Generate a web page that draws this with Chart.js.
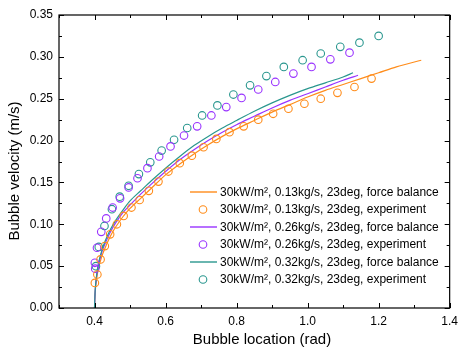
<!DOCTYPE html>
<html>
<head>
<meta charset="utf-8">
<script src="https://cdn.jsdelivr.net/npm/chart.js@4.4.1/dist/chart.umd.min.js"></script>
<style>
  html, body { margin: 0; padding: 0; background: #fff; }
  #wrap { width: 464px; height: 351px; }
</style>
</head>
<body>
<div id="wrap"><canvas id="myChart" width="464" height="351"></canvas></div>
<script>
// tick values
const xTicks = [0.4, 0.6, 0.8, 1.0, 1.2, 1.4];
const xMinor = [0.3, 0.5, 0.7, 0.9, 1.1, 1.3];
const yTicks = [0, 0.05, 0.10, 0.15, 0.20, 0.25, 0.30, 0.35];
const yMinor = [0.025, 0.075, 0.125, 0.175, 0.225, 0.275, 0.325];

const xTitle = 'Bubble location (rad)';
const yTitle = 'Bubble velocity (m/s)';

const labels = [
  '30kW/m², 0.13kg/s, 23deg, force balance',
  '30kW/m², 0.13kg/s, 23deg, experiment',
  '30kW/m², 0.26kg/s, 23deg, force balance',
  '30kW/m², 0.26kg/s, 23deg, experiment',
  '30kW/m², 0.32kg/s, 23deg, force balance',
  '30kW/m², 0.32kg/s, 23deg, experiment'
];

// force balance curves
const lineX013 = [0.400, 0.402, 0.405, 0.410, 0.420, 0.430, 0.445, 0.460, 0.480, 0.500, 0.530, 0.560, 0.600, 0.640, 0.680, 0.720, 0.760, 0.800, 0.850, 0.900, 0.950, 1.000, 1.050, 1.100, 1.150, 1.200, 1.250, 1.320];
const lineY013 = [0.000, 0.019, 0.032, 0.045, 0.061, 0.072, 0.086, 0.097, 0.109, 0.119, 0.131, 0.143, 0.159, 0.172, 0.184, 0.195, 0.205, 0.214, 0.224, 0.234, 0.243, 0.252, 0.260, 0.267, 0.274, 0.281, 0.288, 0.296];

const lineX026 = [0.400, 0.402, 0.405, 0.410, 0.420, 0.430, 0.445, 0.460, 0.480, 0.500, 0.530, 0.560, 0.600, 0.640, 0.680, 0.720, 0.760, 0.800, 0.850, 0.900, 0.950, 1.000, 1.050, 1.100, 1.142];
const lineY026 = [0.000, 0.021, 0.035, 0.049, 0.066, 0.077, 0.091, 0.102, 0.114, 0.123, 0.136, 0.148, 0.163, 0.177, 0.189, 0.200, 0.210, 0.219, 0.229, 0.239, 0.248, 0.256, 0.264, 0.272, 0.278];

const lineX032 = [0.400, 0.402, 0.405, 0.410, 0.420, 0.430, 0.445, 0.460, 0.480, 0.500, 0.530, 0.560, 0.600, 0.640, 0.680, 0.720, 0.760, 0.800, 0.850, 0.900, 0.950, 1.000, 1.050, 1.100, 1.128];
const lineY032 = [0.000, 0.022, 0.036, 0.051, 0.068, 0.080, 0.094, 0.105, 0.117, 0.128, 0.140, 0.152, 0.167, 0.181, 0.194, 0.205, 0.215, 0.224, 0.235, 0.245, 0.254, 0.262, 0.269, 0.276, 0.281];

// experiment points
const expX013 = [0.401, 0.408, 0.417, 0.429, 0.444, 0.463, 0.482, 0.504, 0.527, 0.553, 0.580, 0.608, 0.640, 0.674, 0.707, 0.743, 0.780, 0.820, 0.861, 0.903, 0.946, 0.991, 1.037, 1.084, 1.132, 1.180];
const expY013 = [0.030, 0.040, 0.058, 0.074, 0.088, 0.100, 0.110, 0.120, 0.129, 0.140, 0.151, 0.163, 0.173, 0.182, 0.192, 0.202, 0.210, 0.217, 0.225, 0.232, 0.238, 0.244, 0.250, 0.257, 0.264, 0.274];

const expX026 = [0.401, 0.402, 0.407, 0.419, 0.433, 0.451, 0.472, 0.496, 0.521, 0.549, 0.582, 0.614, 0.652, 0.689, 0.729, 0.771, 0.814, 0.861, 0.909, 0.960, 1.011, 1.064, 1.118];
const expY026 = [0.054, 0.047, 0.072, 0.091, 0.107, 0.120, 0.131, 0.144, 0.155, 0.167, 0.181, 0.193, 0.206, 0.217, 0.230, 0.240, 0.251, 0.261, 0.270, 0.280, 0.288, 0.297, 0.305];

const expX032 = [0.404, 0.412, 0.428, 0.449, 0.471, 0.496, 0.525, 0.557, 0.589, 0.624, 0.661, 0.703, 0.746, 0.791, 0.838, 0.884, 0.933, 0.986, 1.037, 1.092, 1.146, 1.200];
const expY032 = [0.050, 0.073, 0.098, 0.118, 0.133, 0.146, 0.160, 0.174, 0.188, 0.201, 0.215, 0.230, 0.242, 0.255, 0.266, 0.277, 0.288, 0.296, 0.304, 0.312, 0.317, 0.325];

const orange = '#ff8c1a';
const purple = '#9933ff';
const teal = '#2a978f';
const fontFamily = "Arial, 'Liberation Sans', sans-serif";

function pts(xs, ys) {
  return xs.map((x, i) => ({ x: x, y: ys[i] }));
}

function lineSet(label, xs, ys, color, order) {
  return {
    label: label,
    data: pts(xs, ys),
    showLine: true,
    borderColor: color,
    backgroundColor: color,
    borderWidth: 1.2,
    pointRadius: 0,
    tension: 0.3,
    fill: false,
    order: order
  };
}

function pointSet(label, xs, ys, color) {
  return {
    label: label,
    data: pts(xs, ys),
    showLine: false,
    borderColor: color,
    backgroundColor: 'rgba(0,0,0,0)',
    borderWidth: 1.1,
    pointRadius: 3.8,
    pointStyle: 'circle',
    order: 0
  };
}

// frame with inward ticks on all four sides, plus axis titles
const framePlugin = {
  id: 'frame',
  afterDraw(chart) {
    const c = chart.ctx;
    const a = chart.chartArea;
    const xs = chart.scales.x, ys = chart.scales.y;
    c.save();
    c.strokeStyle = '#000';
    c.lineWidth = 1.2;
    c.strokeRect(a.left, a.top, a.right - a.left, a.bottom - a.top);
    c.beginPath();
    xTicks.concat(xMinor).forEach(v => {
      const len = xTicks.includes(v) ? 5 : 3;
      const px = Math.round(xs.getPixelForValue(v)) + 0.5;
      c.moveTo(px, a.bottom); c.lineTo(px, a.bottom - len);
      c.moveTo(px, a.top); c.lineTo(px, a.top + len);
    });
    yTicks.concat(yMinor).forEach(v => {
      const len = yTicks.includes(v) ? 5 : 3;
      const py = Math.round(ys.getPixelForValue(v)) + 0.5;
      c.moveTo(a.left, py); c.lineTo(a.left + len, py);
      c.moveTo(a.right, py); c.lineTo(a.right - len, py);
    });
    c.lineWidth = 1;
    c.stroke();

    // axis titles
    c.fillStyle = '#000';
    c.font = '15px ' + fontFamily;
    c.textAlign = 'center';
    c.textBaseline = 'middle';
    c.fillText(xTitle, 262, 340);
    c.translate(15, 171);
    c.rotate(-Math.PI / 2);
    c.fillText(yTitle, 0, 0);
    c.restore();
  }
};

// legend drawn inside the plot, lower right
const legendPlugin = {
  id: 'innerLegend',
  afterDraw(chart) {
    const c = chart.ctx;
    const x0 = 190, y0 = 192, rowH = 17.5;
    c.save();
    c.font = '12px ' + fontFamily;
    c.textBaseline = 'middle';
    c.textAlign = 'left';
    chart.data.datasets.forEach((ds, i) => {
      const y = y0 + i * rowH;
      c.strokeStyle = ds.borderColor;
      if (ds.showLine) {
        c.lineWidth = 1.4;
        c.beginPath();
        c.moveTo(x0, y); c.lineTo(x0 + 27, y);
        c.stroke();
      } else {
        c.lineWidth = 1.1;
        c.beginPath();
        c.arc(x0 + 13, y, 3.8, 0, Math.PI * 2);
        c.stroke();
      }
      c.fillStyle = '#000';
      c.fillText(ds.label, x0 + 30, y + 0.5);
    });
    c.restore();
  }
};

const ctx = document.getElementById('myChart').getContext('2d');
const myChart = new Chart(ctx, {
  type: 'scatter',
  data: {
    datasets: [
      lineSet(labels[0], lineX013, lineY013, orange, 3),
      pointSet(labels[1], expX013, expY013, orange),
      lineSet(labels[2], lineX026, lineY026, purple, 2),
      pointSet(labels[3], expX026, expY026, purple),
      lineSet(labels[4], lineX032, lineY032, teal, 1),
      pointSet(labels[5], expX032, expY032, teal)
    ]
  },
  options: {
    responsive: false,
    animation: false,
    devicePixelRatio: 1,
    layout: { padding: { left: 0, top: 15, right: 9, bottom: 0 } },
    plugins: {
      legend: { display: false },
      tooltip: { enabled: false }
    },
    scales: {
      x: {
        type: 'linear',
        min: 0.3,
        max: 1.4,
        grid: { display: false, tickLength: 0 },
        border: { display: false },
        afterBuildTicks: s => { s.ticks = xTicks.map(v => ({ value: v })); },
        afterFit: s => { s.height = 43; },
        ticks: {
          padding: 6,
          color: '#000',
          font: { size: 12, family: fontFamily },
          callback: v => Number(v).toFixed(1)
        }
      },
      y: {
        type: 'linear',
        min: 0,
        max: 0.35,
        grid: { display: false, tickLength: 0 },
        border: { display: false },
        afterBuildTicks: s => { s.ticks = yTicks.map(v => ({ value: v })); },
        afterFit: s => { s.width = 59; },
        ticks: {
          padding: 6,
          color: '#000',
          font: { size: 12, family: fontFamily },
          callback: v => Number(v).toFixed(2)
        }
      }
    }
  },
  plugins: [framePlugin, legendPlugin]
});
</script>
</body>
</html>
